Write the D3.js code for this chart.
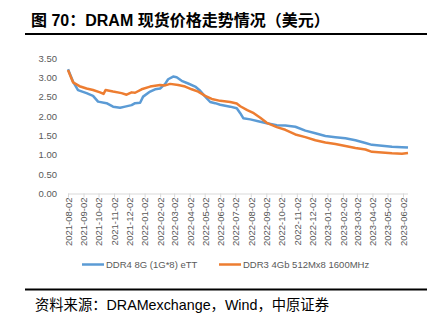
<!DOCTYPE html>
<html>
<head>
<meta charset="utf-8">
<script src="https://cdn.jsdelivr.net/npm/d3@7"></script>
<style>
  body { margin: 0; background: #fff; }
  text { font-family: "Liberation Sans", Arial, "Noto Sans CJK SC", sans-serif; }
</style>
</head>
<body>
<div id="chart"></div>
<script>
// tick labels on the category axis
var monthTicks = ["2021-08-02","2021-09-02","2021-10-02","2021-11-02","2021-12-02","2022-01-02",
  "2022-02-02","2022-03-02","2022-04-02","2022-05-02","2022-06-02","2022-07-02","2022-08-02",
  "2022-09-02","2022-10-02","2022-11-02","2022-12-02","2023-01-02","2023-02-02","2023-03-02",
  "2023-04-02","2023-05-02","2023-06-02"];
var yTicks = [0, 0.5, 1, 1.5, 2, 2.5, 3, 3.5];

// DDR4 8G (1G*8) eTT
var ddr4Dates = ["2021-08-02","2021-08-12","2021-08-22","2021-09-08","2021-09-21","2021-10-01","2021-10-18",
  "2021-10-31","2021-11-14","2021-11-24","2021-12-07","2021-12-14","2021-12-24","2021-12-30","2022-01-13",
  "2022-01-23","2022-02-02","2022-02-12","2022-02-18","2022-02-28","2022-03-07","2022-03-17","2022-03-30",
  "2022-04-13","2022-04-23","2022-05-03","2022-05-13","2022-05-23","2022-06-02","2022-06-22","2022-07-05",
  "2022-07-12","2022-07-18","2022-08-01","2022-08-21","2022-09-03","2022-09-23","2022-10-10","2022-10-30",
  "2022-11-19","2022-12-09","2022-12-29","2023-01-18","2023-02-07","2023-02-27","2023-03-19","2023-04-01",
  "2023-04-21","2023-05-11","2023-05-31","2023-06-12"];
var ddr4Values = [3.22,2.90,2.68,2.60,2.53,2.38,2.34,
  2.25,2.22,2.25,2.29,2.34,2.35,2.51,2.64,
  2.70,2.72,2.84,2.96,3.03,3.01,2.92,2.85,
  2.77,2.66,2.51,2.37,2.34,2.30,2.25,2.21,
  2.08,1.95,1.92,1.86,1.82,1.77,1.76,1.73,
  1.63,1.56,1.49,1.46,1.43,1.38,1.31,1.26,
  1.24,1.21,1.20,1.19];

// DDR3 4Gb 512Mx8 1600MHz
var ddr3Dates = ["2021-08-02","2021-08-12","2021-08-25","2021-09-08","2021-09-21","2021-10-05","2021-10-12",
  "2021-10-16","2021-10-31","2021-11-17","2021-11-27","2021-12-07","2021-12-14","2021-12-27","2022-01-13",
  "2022-02-02","2022-02-12","2022-02-22","2022-03-10","2022-03-24","2022-04-06","2022-04-19","2022-05-03",
  "2022-05-16","2022-06-02","2022-06-22","2022-07-05","2022-07-12","2022-07-26","2022-08-08","2022-08-21",
  "2022-09-03","2022-09-23","2022-10-10","2022-10-30","2022-11-19","2022-12-09","2022-12-29","2023-01-18",
  "2023-02-07","2023-02-27","2023-03-19","2023-04-01","2023-04-21","2023-05-11","2023-05-31","2023-06-12"];
var ddr3Values = [3.20,2.88,2.78,2.72,2.68,2.62,2.58,
  2.68,2.64,2.60,2.56,2.62,2.61,2.70,2.77,
  2.81,2.80,2.84,2.81,2.77,2.70,2.64,2.53,
  2.45,2.40,2.37,2.33,2.26,2.16,2.08,1.96,
  1.83,1.72,1.65,1.53,1.46,1.38,1.32,1.28,
  1.23,1.18,1.14,1.08,1.06,1.04,1.03,1.05];

var seriesNames = ["DDR4 8G (1G*8) eTT", "DDR3 4Gb 512Mx8 1600MHz"];
var colors = ["#5B9BD5", "#ED7D31"];

var W = 438, H = 323;
var parse = d3.timeParse("%Y-%m-%d");

var svg = d3.select("#chart").append("svg").attr("width", W).attr("height", H);
svg.append("rect").attr("width", W).attr("height", H).attr("fill", "#fff");

// title + rules
svg.append("text").attr("x", 31).attr("y", 26).attr("font-size", "16px").attr("font-weight", "bold")
  .attr("fill", "#000").style("font-family", "'Liberation Sans', 'Noto Sans CJK SC', sans-serif")
  .text("图 70：DRAM 现货价格走势情况（美元）");
svg.append("line").attr("x1", 25).attr("x2", 427).attr("y1", 34).attr("y2", 34).attr("stroke", "#000").attr("stroke-width", 2);
svg.append("line").attr("x1", 25).attr("x2", 427).attr("y1", 289.5).attr("y2", 289.5).attr("stroke", "#000").attr("stroke-width", 2);
svg.append("text").attr("x", 35).attr("y", 310).attr("font-size", "14.3px").attr("fill", "#000")
  .style("font-family", "'Liberation Sans', 'Noto Sans CJK SC', sans-serif")
  .text("资料来源：DRAMexchange，Wind，中原证券");

var x = d3.scaleTime().domain([parse("2021-08-02"), parse("2023-06-12")]).range([68, 408]);
var y = d3.scaleLinear().domain([0, 3.5]).range([193.5, 58.4]);

// y labels
svg.selectAll(".ylab").data(yTicks).enter().append("text")
  .attr("x", 57).attr("y", function(d) { return y(d); }).attr("dy", "0.35em")
  .attr("text-anchor", "end").attr("font-size", "9.5px").attr("fill", "#595959")
  .text(function(d) { return d3.format(".2f")(d); });

// x axis
var xAxis = svg.append("g").attr("transform", "translate(0," + y(0) + ")")
  .call(d3.axisBottom(x).tickValues(monthTicks.map(parse)).tickSize(4).tickFormat(d3.timeFormat("%Y-%m-%d")));
xAxis.select(".domain").attr("stroke", "#D9D9D9").attr("d", "M68,0.5H408");
xAxis.selectAll(".tick line").attr("stroke", "#D9D9D9");
xAxis.selectAll(".tick text").attr("font-size", "9.5px").attr("fill", "#595959")
  .attr("font-family", "'Liberation Sans', Arial, sans-serif")
  .attr("transform", "rotate(-90)").attr("text-anchor", "end")
  .attr("x", -4).attr("y", 0).attr("dy", "0.35em");

// lines
var line = d3.line().x(function(d) { return x(d[0]); }).y(function(d) { return y(d[1]); });
var series = [
  d3.zip(ddr4Dates.map(parse), ddr4Values),
  d3.zip(ddr3Dates.map(parse), ddr3Values)
];
svg.selectAll(".series").data(series).enter().append("path")
  .attr("d", line).attr("fill", "none")
  .attr("stroke", function(d, i) { return colors[i]; })
  .attr("stroke-width", 2.5).attr("stroke-linejoin", "round");

// legend
var legX = [82, 219];
var leg = svg.selectAll(".leg").data(seriesNames).enter().append("g")
  .attr("transform", function(d, i) { return "translate(" + legX[i] + ",264.5)"; });
leg.append("line").attr("x1", 0).attr("x2", 22).attr("stroke", function(d, i) { return colors[i]; }).attr("stroke-width", 2.5);
leg.append("text").attr("x", 24).attr("dy", "0.35em").attr("font-size", "9.5px").attr("fill", "#595959").text(function(d) { return d; });
</script>
</body>
</html>
